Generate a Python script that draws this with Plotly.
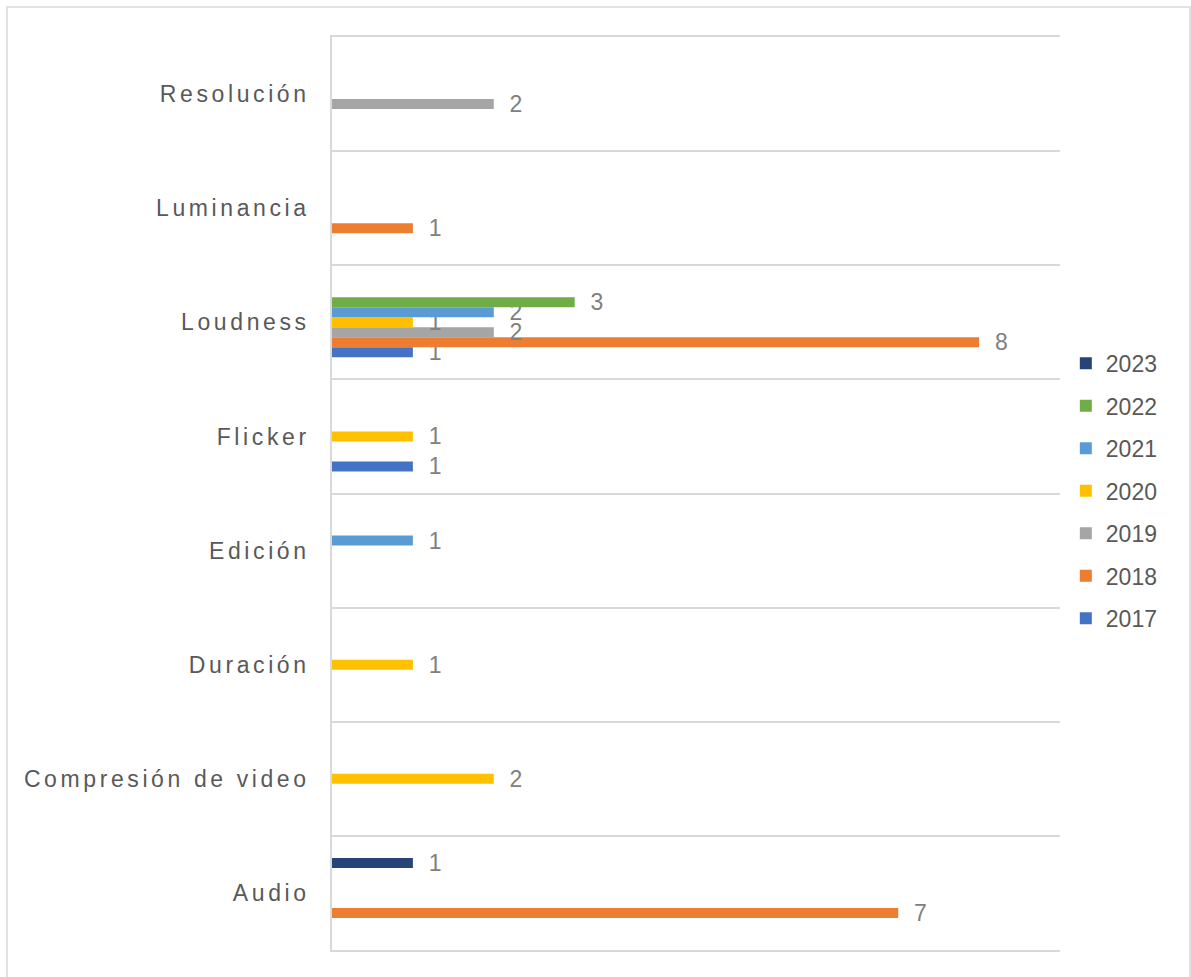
import plotly.graph_objects as go

categories = ["Audio", "Compresión de video", "Duración", "Edición",
              "Flicker", "Loudness", "Luminancia", "Resolución"]
years = ["2017", "2018", "2019", "2020", "2021", "2022", "2023"]

v2017 = [None, None, None, None, 1, 1, None, None]
v2018 = [7, None, None, None, None, 8, 1, None]
v2019 = [None, None, None, None, None, 2, None, 2]
v2020 = [None, 2, 1, None, 1, 1, None, None]
v2021 = [None, None, None, 1, None, 2, None, None]
v2022 = [None, None, None, None, None, 3, None, None]
v2023 = [1, None, None, None, None, None, None, None]

series = [v2017, v2018, v2019, v2020, v2021, v2022, v2023]
colors = ["#4472C4", "#ED7D31", "#A5A5A5", "#FFC000", "#5B9BD5", "#70AD47", "#264478"]

FONT = "Liberation Sans, Arial, sans-serif"

fig = go.Figure()
for i, (yr, vals, col) in enumerate(zip(years, series, colors)):
    fig.add_trace(go.Bar(
        y=categories, x=vals, name=yr, orientation="h",
        marker=dict(color=col, line=dict(width=0)),
        text=[("\u00a0\u00a0" + str(v)) if v is not None else "" for v in vals],
        textposition="outside", constraintext="none", cliponaxis=False,
        textfont=dict(family=FONT, size=23, color="#808080"),
        legendgroup=yr, legendrank=len(years) - i,
    ))

fig.update_layout(
    width=1191, height=977,
    margin=dict(l=332, r=131, t=37, b=27),
    paper_bgcolor="white", plot_bgcolor="white",
    barmode="group", bargap=0.387, bargroupgap=0,
    font=dict(family=FONT, color="#595959"),
    showlegend=True,
    legend=dict(traceorder="grouped", tracegroupgap=9.6,
                x=1.008, xanchor="left", y=0.503, yanchor="middle",
                font=dict(family=FONT, size=23, color="#595959"),
                itemwidth=30, bgcolor="rgba(0,0,0,0)"),
    xaxis=dict(range=[0, 9], showticklabels=False, showgrid=False,
               zeroline=False, showline=True, mirror=True,
               linecolor="#D9D9D9", linewidth=1.5, ticks="", fixedrange=True),
    yaxis=dict(type="category", categoryorder="array", categoryarray=categories,
               tickson="boundaries", showgrid=True, gridcolor="#D9D9D9", gridwidth=1.5,
               showline=True, linecolor="#D9D9D9", linewidth=1.5,
               ticks="", ticklabelstandoff=16,
               tickfont=dict(family=FONT, size=23, color="#595959")),
    shapes=[dict(type="rect", xref="paper", yref="paper",
                 x0=(7 - 332) / 728, x1=(1190 - 332) / 728,
                 y0=(950 - 990) / 913, y1=(950 - 7) / 913,
                 line=dict(color="#D9D9D9", width=1.5), fillcolor="rgba(0,0,0,0)",
                 layer="below")],
)

post = """
document.body.style.margin='0';
document.body.style.padding='0';
var gd = document.getElementById('{plot_id}');
function ls(){ gd.querySelectorAll('.ytick text').forEach(function(t){ t.style.letterSpacing='3.6px'; }); }
ls();
gd.on('plotly_afterplot', ls);
"""
fig.write_html("out.html", post_script=post, config={"displayModeBar": False})
